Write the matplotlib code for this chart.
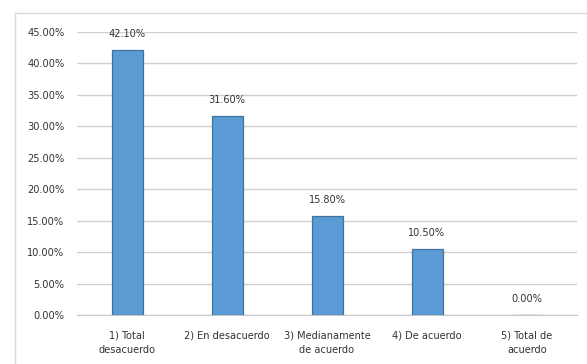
import matplotlib.pyplot as plt
from matplotlib.lines import Line2D
from matplotlib.ticker import FuncFormatter

categories = ['1) Total\ndesacuerdo', '2) En desacuerdo', '3) Medianamente\nde acuerdo',
              '4) De acuerdo', '5) Total de\nacuerdo']
values = [42.10, 31.60, 15.80, 10.50, 0.00]

plt.rcParams['font.family'] = ['DejaVu Sans']
plt.rcParams['font.stretch'] = 'condensed'
plt.rcParams['font.size'] = 7.8

W, H = 587, 364
fig = plt.figure(figsize=(W / 100, H / 100), dpi=100)
ax = fig.add_axes([77 / W, 1 - 315 / H, 500 / W, (315 - 31.7) / H])

x = range(len(categories))
bars = ax.bar(x, values, width=0.31, color='#5b9bd5', edgecolor='#41719c', linewidth=0.9, zorder=3)

# value labels above bars
for xi, v in zip(x, values):
    ax.text(xi, v + 1.7, f'{v:.2f}%', ha='center', va='bottom', color='#333333')

ax.set_xlim(-0.5, len(categories) - 0.5)
ax.set_ylim(0, 45)
ax.set_yticks(range(0, 46, 5))
ax.yaxis.set_major_formatter(FuncFormatter(lambda v, p: f'{v:.2f}%'))
ax.set_xticks(list(x))
ax.set_xticklabels(categories, color='#333333', linespacing=1.55)
ax.tick_params(axis='y', length=0, pad=9, colors='#333333')
ax.tick_params(axis='x', length=0, pad=11, colors='#333333')
ax.grid(axis='y', color='#d0d0d0', linewidth=1, zorder=0)
for s in ['top', 'right', 'left']:
    ax.spines[s].set_visible(False)
ax.spines['bottom'].set_color('#c8c8c8')

# outer chart border (top and left)
fig.add_artist(Line2D([15 / W, 1], [1 - 13 / H, 1 - 13 / H], color='#d9d9d9', lw=1, transform=fig.transFigure))
fig.add_artist(Line2D([15 / W, 15 / W], [0, 1 - 13 / H], color='#d9d9d9', lw=1, transform=fig.transFigure))

fig.savefig('out.png', dpi=100)
